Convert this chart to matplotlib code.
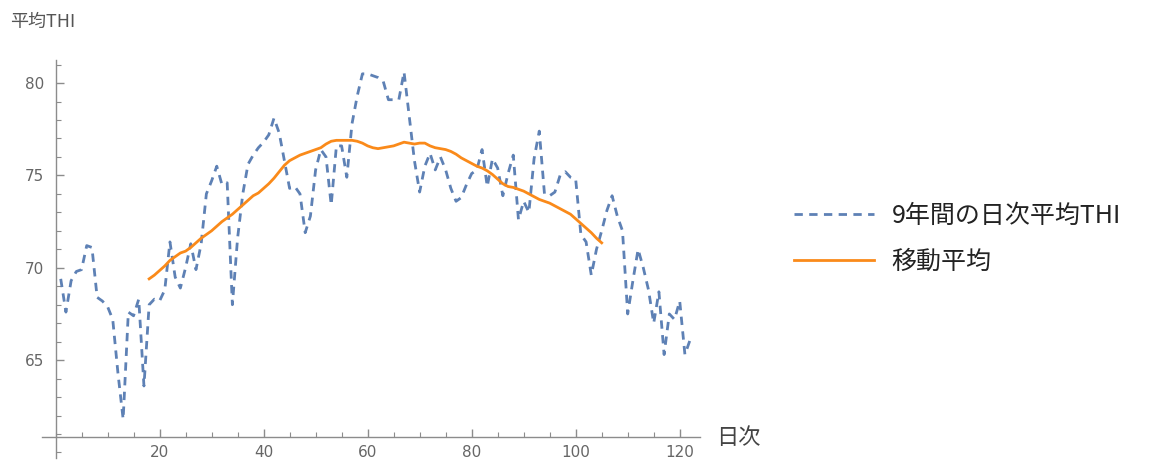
import matplotlib
matplotlib.use("Agg")
import matplotlib.pyplot as plt
from matplotlib.ticker import MultipleLocator

plt.rcParams['font.family'] = ['Noto Sans CJK JP', 'DejaVu Sans']
plt.rcParams['lines.scale_dashes'] = False

# Daily mean THI over 9 years (day 1..122)
days = list(range(1, 123))
thi_daily = [
    69.4, 67.6, 69.3, 69.8, 69.9, 71.2, 71.1, 68.4, 68.2, 67.9,
    67.2, 64.3, 61.8, 67.6, 67.4, 68.3, 63.6, 68.0, 68.3, 68.2,
    68.8, 71.4, 69.5, 68.9, 70.0, 71.3, 69.9, 71.3, 74.0, 74.7,
    75.5, 74.5, 74.6, 68.0, 71.6, 74.0, 75.6, 76.1, 76.5, 76.8,
    77.2, 78.1, 77.3, 75.8, 74.3, 74.4, 74.0, 71.9, 72.8, 75.3,
    76.4, 76.0, 73.4, 76.6, 76.6, 74.9, 77.8, 79.3, 80.5, 80.5,
    80.4, 80.3, 80.1, 79.1, 79.1, 79.1, 80.6, 78.2, 75.8, 74.1,
    75.5, 76.2, 75.3, 76.0, 75.3, 74.3, 73.6, 73.8, 74.5, 75.1,
    75.3, 76.4, 74.4, 75.9, 75.4, 73.9, 75.1, 76.1, 72.6, 73.6,
    73.0, 75.9, 77.4, 74.0, 73.9, 74.1, 75.0, 75.2, 74.9, 74.8,
    71.8, 71.4, 69.6, 71.0, 72.0, 73.1, 73.9, 72.8, 72.0, 67.5,
    69.3, 71.0, 70.0, 68.8, 67.0, 68.7, 65.3, 67.5, 67.2, 68.2,
    65.3, 66.1,
]

# Moving average, days 18..105
ma_days = list(range(18, 106))
ma_values = [
    69.4, 69.6, 69.85, 70.1, 70.4, 70.6, 70.8, 70.9, 71.1, 71.35,
    71.6, 71.8, 72.0, 72.25, 72.5, 72.7, 72.9, 73.15, 73.4, 73.65,
    73.9, 74.05, 74.3, 74.55, 74.85, 75.2, 75.55, 75.8, 75.95, 76.1,
    76.2, 76.3, 76.4, 76.5, 76.7, 76.85, 76.9, 76.9, 76.9, 76.9,
    76.85, 76.75, 76.6, 76.5, 76.45, 76.5, 76.55, 76.6, 76.7, 76.8,
    76.75, 76.7, 76.75, 76.75, 76.6, 76.5, 76.45, 76.4, 76.3, 76.15,
    75.95, 75.8, 75.65, 75.5, 75.4, 75.25, 75.05, 74.8, 74.55, 74.4,
    74.35, 74.25, 74.15, 74.0, 73.85, 73.7, 73.6, 73.5, 73.35, 73.2,
    73.05, 72.9, 72.65, 72.4, 72.15, 71.9, 71.6, 71.35,
]

series_labels = ['9年間の日次平均THI', '移動平均']
y_label = '平均THI'
x_label = '日次'

BLUE = '#5E81B5'
ORANGE = '#FA8A1A'
AXIS = '#8C8C8C'
TICKLBL = '#666666'

W, H = 1173, 462
fig = plt.figure(figsize=(W / 100, H / 100), dpi=100)
ax = fig.add_axes([42 / W, 4 / H, 658 / W, 398 / H])

l1, = ax.plot(days, thi_daily, color=BLUE, lw=2.0, label=series_labels[0])
l1.set_dashes([6.0, 4.6])
l2, = ax.plot(ma_days, ma_values, color=ORANGE, lw=2.0, label=series_labels[1])

ax.set_xlim(-2.6, 123.9)
ax.set_ylim(59.7, 81.25)

for s in ['top', 'right']:
    ax.spines[s].set_visible(False)
ax.spines['left'].set_position(('data', 0))
ax.spines['bottom'].set_position(('data', 60.85))
for s in ['left', 'bottom']:
    ax.spines[s].set_color(AXIS)
    ax.spines[s].set_linewidth(1.0)

ax.xaxis.set_minor_locator(MultipleLocator(5))
ax.yaxis.set_minor_locator(MultipleLocator(1))
ax.set_xticks([20, 40, 60, 80, 100, 120])
ax.set_yticks([65, 70, 75, 80])
ax.tick_params(axis='both', which='major', direction='in', length=6, width=1,
               color=AXIS, labelcolor=TICKLBL, labelsize=11)
ax.tick_params(axis='both', which='minor', direction='in', length=3.5, width=0.8,
               color=AXIS)
ax.tick_params(axis='x', which='major', pad=6)
ax.tick_params(axis='y', which='major', pad=8)
for lab in ax.get_xticklabels() + ax.get_yticklabels():
    lab.set_family('DejaVu Sans')

fig.text(10 / W, 1 - 22 / H, y_label, fontsize=13, color='#555555',
         ha='left', va='center')
fig.text(716 / W, 1 - 437 / H, x_label, fontsize=16, color='#444444',
         ha='left', va='center')

leg = fig.legend(handles=[l1, l2], labels=series_labels,
                 loc='center left', bbox_to_anchor=(771 / W, 1 - 239 / H),
                 frameon=False, fontsize=18, handlelength=3.2,
                 handletextpad=0.72, labelspacing=0.8)
for t in leg.get_texts():
    t.set_color('#222222')

fig.savefig('out.png', dpi=100)
